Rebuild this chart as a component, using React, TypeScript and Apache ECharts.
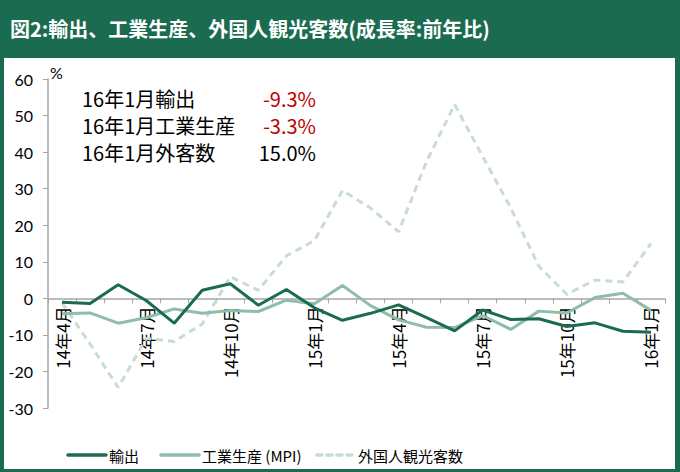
import React, { useEffect, useRef } from "react";
import * as echarts from "echarts";

const months = [
  "14年4月", "14年5月", "14年6月", "14年7月", "14年8月", "14年9月",
  "14年10月", "14年11月", "14年12月", "15年1月", "15年2月", "15年3月",
  "15年4月", "15年5月", "15年6月", "15年7月", "15年8月", "15年9月",
  "15年10月", "15年11月", "15年12月", "16年1月",
];
const exportsYoY = [-1.1, -1.4, 3.7, -0.6, -6.8, 2.2, 4.0, -1.9, 2.4, -2.6, -6.0, -4.1, -1.8, -5.3, -8.9, -3.2, -5.8, -5.6, -7.7, -6.7, -9.0, -9.3];
const industryYoY = [-4.2, -4.0, -6.8, -5.3, -2.9, -4.1, -3.3, -3.6, -0.5, -1.5, 3.5, -2.0, -5.9, -7.9, -8.0, -4.7, -8.5, -3.5, -4.0, 0.2, 1.4, -3.3];
const visitorsYoY = [-1.2, -12.5, -24.4, -11.0, -11.8, -7.0, 5.9, 2.2, 11.6, 15.8, 29.5, 24.7, 18.2, 37.5, 53.0, 38.8, 24.7, 8.8, 1.1, 5.0, 4.5, 15.0];

const seriesNames = ["輸出", "工業生産 (MPI)", "外国人観光客数"];
const noteLabels = ["16年1月輸出", "16年1月工業生産", "16年1月外客数"];
const titleText = "図2:輸出、工業生産、外国人観光客数(成長率:前年比)";

const GREEN = "#1b6b50";
const C_EXPORT = "#1b6b50";
const C_IND = "#8fbea7";
const C_VIS = "#c8dcd3";
const JP = "'Noto Sans CJK JP', sans-serif";

const Y_MIN = -30;
const Y_MAX = 60;
const GRID_TOP = 79;
const GRID_BOTTOM_PX = 408;

export default function App() {
  const ref = useRef<HTMLDivElement>(null);
  useEffect(() => {
    if (!ref.current) return;
    const chart = echarts.init(ref.current, undefined, { renderer: "svg" });
    const lastVals = [exportsYoY, industryYoY, visitorsYoY].map((a) => a[a.length - 1]);
    const noteEls: any[] = [];
    noteLabels.forEach((lab, i) => {
      const y = 98 + i * 27;
      noteEls.push({
        type: "text",
        x: 82,
        y,
        style: { text: lab, fill: "#000", font: `20px ${JP}`, textVerticalAlign: "middle", textAlign: "left" },
      });
      const v = lastVals[i];
      noteEls.push({
        type: "text",
        x: 316,
        y,
        style: {
          text: v.toFixed(1) + "%",
          fill: v < 0 ? "#c00000" : "#000",
          font: `20px ${JP}`,
          textVerticalAlign: "middle",
          textAlign: "right",
        },
      });
    });

    // legend drawn manually (line icons without symbols)
    const legendColors = [C_EXPORT, C_IND, C_VIS];
    const legendX = [68, 161, 317];
    const legendEls: any[] = [];
    seriesNames.forEach((n, i) => {
      const x0 = legendX[i];
      legendEls.push({
        type: "line",
        shape: { x1: x0, y1: 455, x2: x0 + 38, y2: 455 },
        style: {
          stroke: legendColors[i],
          lineWidth: 3.5,
          lineCap: "round",
          lineDash: i === 2 ? [5, 5] : null,
        },
      });
      legendEls.push({
        type: "text",
        x: x0 + 41,
        y: 455,
        style: { text: n, fill: "#000", font: `15px ${JP}`, textVerticalAlign: "middle" },
      });
    });

    // offset of x axis so it sits on the zero line
    const zeroPx = GRID_TOP + ((Y_MAX - 0) / (Y_MAX - Y_MIN)) * (GRID_BOTTOM_PX - GRID_TOP);
    const xOffset = -(GRID_BOTTOM_PX - zeroPx);

    chart.setOption({
      animation: false,
      backgroundColor: GREEN,
      graphic: [
        { type: "rect", z: -10, shape: { x: 4, y: 58, width: 671, height: 411 }, style: { fill: "#fff" } },
        {
          type: "text",
          x: 10,
          y: 28,
          style: { text: titleText, fill: "#fff", font: `bold 20px ${JP}`, textVerticalAlign: "middle" },
        },
        {
          type: "text",
          x: 50,
          y: 72,
          style: { text: "%", fill: "#000", font: "16px Lato, sans-serif", textVerticalAlign: "middle" },
        },
        ...noteEls,
        ...legendEls,
      ],
      grid: { left: 48, right: 15, top: GRID_TOP, bottom: 472 - GRID_BOTTOM_PX, outerBoundsMode: "none", containLabel: false },
      xAxis: {
        type: "category",
        data: months,
        boundaryGap: true,
        position: "bottom",
        offset: xOffset,
        axisLine: { onZero: false, lineStyle: { color: "#a6a6a6", width: 1.5 } },
        axisTick: { show: true, interval: 0, length: 5, lineStyle: { color: "#a6a6a6" } },
        axisLabel: {
          interval: 2,
          rotate: 90,
          margin: 8,
          fontSize: 17,
          fontFamily: JP,
          color: "#000",
        },
        splitLine: { show: false },
      },
      yAxis: {
        type: "value",
        min: Y_MIN,
        max: Y_MAX,
        interval: 10,
        axisLine: { show: true, lineStyle: { color: "#a6a6a6", width: 1.5 } },
        axisTick: { show: true, length: 5, lineStyle: { color: "#a6a6a6" } },
        axisLabel: { fontSize: 16, fontFamily: "Lato, sans-serif", color: "#000", margin: 15 },
        splitLine: { show: false },
      },
      series: [
        {
          name: seriesNames[0],
          type: "line",
          data: exportsYoY,
          symbol: "none",
          z: 5,
          lineStyle: { color: C_EXPORT, width: 3 },
          itemStyle: { color: C_EXPORT },
        },
        {
          name: seriesNames[1],
          type: "line",
          data: industryYoY,
          symbol: "none",
          z: 4,
          lineStyle: { color: C_IND, width: 3 },
          itemStyle: { color: C_IND },
        },
        {
          name: seriesNames[2],
          type: "line",
          data: visitorsYoY,
          symbol: "none",
          z: 3,
          lineStyle: { color: C_VIS, width: 3, type: [7, 5] },
          itemStyle: { color: C_VIS },
        },
      ],
    });
    return () => chart.dispose();
  }, []);
  return <div ref={ref} style={{ position: "fixed", left: 0, top: 0, width: 680, height: 472 }} />;
}
